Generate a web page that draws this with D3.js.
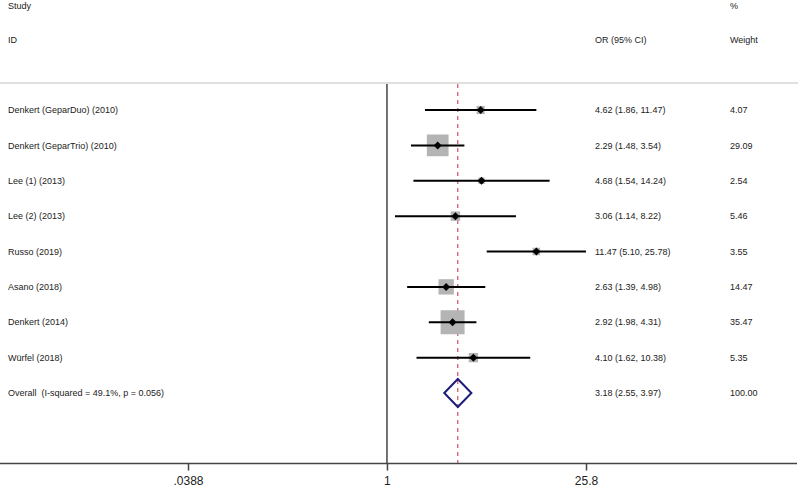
<!DOCTYPE html>
<html>
<head>
<meta charset="utf-8">
<script src="https://cdn.jsdelivr.net/npm/d3@7"></script>
<style>
  body { margin: 0; background: #fff; }
  text { font-family: "Liberation Sans", Arial, sans-serif; fill: #222; white-space: pre; }
</style>
</head>
<body>
<div id="chart"></div>
<script>
var width = 798;
var height = 488;

var studies = ['Denkert (GeparDuo) (2010)', 'Denkert (GeparTrio) (2010)', 'Lee (1) (2013)', 'Lee (2) (2013)',
  'Russo (2019)', 'Asano (2018)', 'Denkert (2014)', 'Würfel (2018)'];
var orValues = [4.62, 2.29, 4.68, 3.06, 11.47, 2.63, 2.92, 4.10];
var lowerCI = [1.86, 1.48, 1.54, 1.14, 5.10, 1.39, 1.98, 1.62];
var upperCI = [11.47, 3.54, 14.24, 8.22, 25.78, 4.98, 4.31, 10.38];
var weights = [4.07, 29.09, 2.54, 5.46, 3.55, 14.47, 35.47, 5.35];
var overallLabel = 'Overall  (I-squared = 49.1%, p = 0.056)';
var overallOR = [3.18, 2.55, 3.97];
var overallWeight = 100;
var tickValues = [0.0388, 1, 25.8];
var tickLabels = ['.0388', '1', '25.8'];

var fmt = d3.format('.2f');

var svg = d3.select('#chart').append('svg')
  .attr('width', width)
  .attr('height', height);

var x = d3.scaleLog()
  .domain([tickValues[0], tickValues[2]])
  .range([188, 586]);

var rows = d3.range(studies.length + 1);
var y = d3.scalePoint()
  .domain(rows)
  .range([110, 393]);

var boxSize = d3.scaleSqrt()
  .domain([0, d3.max(weights)])
  .range([0, 24]);

var plotTop = 84, axisY = 463.5;

// header
function label(txt, tx, ty, size) {
  svg.append('text')
    .attr('x', tx).attr('y', ty)
    .attr('dy', '0.35em')
    .style('font-size', (size || 9) + 'px')
    .text(txt);
}
label('Study', 8, 6);
label('ID', 8, 40);
label('%', 730, 6);
label('Weight', 730, 40);
label('OR (95% CI)', 595, 40);

svg.append('line')
  .attr('x1', 0).attr('x2', width)
  .attr('y1', 83).attr('y2', 83)
  .attr('stroke', '#e0e0e0')
  .attr('stroke-width', 2);

// null line
svg.append('line')
  .attr('x1', x(1)).attr('x2', x(1))
  .attr('y1', plotTop).attr('y2', axisY)
  .attr('stroke', '#444')
  .attr('stroke-width', 1.5);

// overall dashed line
svg.append('line')
  .attr('x1', x(overallOR[0])).attr('x2', x(overallOR[0]))
  .attr('y1', plotTop).attr('y2', axisY)
  .attr('stroke', '#c03040')
  .attr('stroke-width', 1)
  .attr('stroke-dasharray', '4,4');

// study rows
studies.forEach(function(s, i) {
  var cy = y(i);
  var b = boxSize(weights[i]);
  svg.append('rect')
    .attr('x', x(orValues[i]) - b / 2)
    .attr('y', cy - b / 2)
    .attr('width', b).attr('height', b)
    .attr('fill', '#b4b4b4');
  svg.append('line')
    .attr('x1', x(lowerCI[i])).attr('x2', x(upperCI[i]))
    .attr('y1', cy).attr('y2', cy)
    .attr('stroke', '#000')
    .attr('stroke-width', 2);
  var px = x(orValues[i]);
  svg.append('path')
    .attr('d', 'M' + px + ',' + (cy - 4) + 'L' + (px + 4) + ',' + cy + 'L' + px + ',' + (cy + 4) + 'L' + (px - 4) + ',' + cy + 'Z')
    .attr('fill', '#000');
  label(s, 8, cy);
  label(fmt(orValues[i]) + ' (' + fmt(lowerCI[i]) + ', ' + fmt(upperCI[i]) + ')', 595, cy);
  label(fmt(weights[i]), 730, cy);
});

// overall diamond
var oy = y(studies.length);
svg.append('path')
  .attr('d', 'M' + x(overallOR[1]) + ',' + oy +
    'L' + x(overallOR[0]) + ',' + (oy - 14) +
    'L' + x(overallOR[2]) + ',' + oy +
    'L' + x(overallOR[0]) + ',' + (oy + 14) + 'Z')
  .attr('fill', 'none')
  .attr('stroke', '#1c1c7a')
  .attr('stroke-width', 2);
label(overallLabel, 8, oy);
label(fmt(overallOR[0]) + ' (' + fmt(overallOR[1]) + ', ' + fmt(overallOR[2]) + ')', 595, oy);
label(fmt(overallWeight), 730, oy);

// x axis
var axis = svg.append('g')
  .attr('transform', 'translate(0,' + axisY + ')');
axis.append('line')
  .attr('x1', 0).attr('x2', 797)
  .attr('stroke', '#444')
  .attr('stroke-width', 1.5);
axis.call(d3.axisBottom(x)
    .tickValues(tickValues)
    .tickFormat(function(d, i) { return tickLabels[i]; })
    .tickSize(7)
    .tickPadding(6))
  .call(function(g) { g.select('.domain').remove(); })
  .call(function(g) { g.selectAll('.tick line').attr('stroke', '#444').attr('stroke-width', 1.5); })
  .call(function(g) { g.selectAll('.tick text').style('font-size', '12px').attr('fill', '#222')
    .style('font-family', '"Liberation Sans", Arial, sans-serif'); });
</script>
</body>
</html>
